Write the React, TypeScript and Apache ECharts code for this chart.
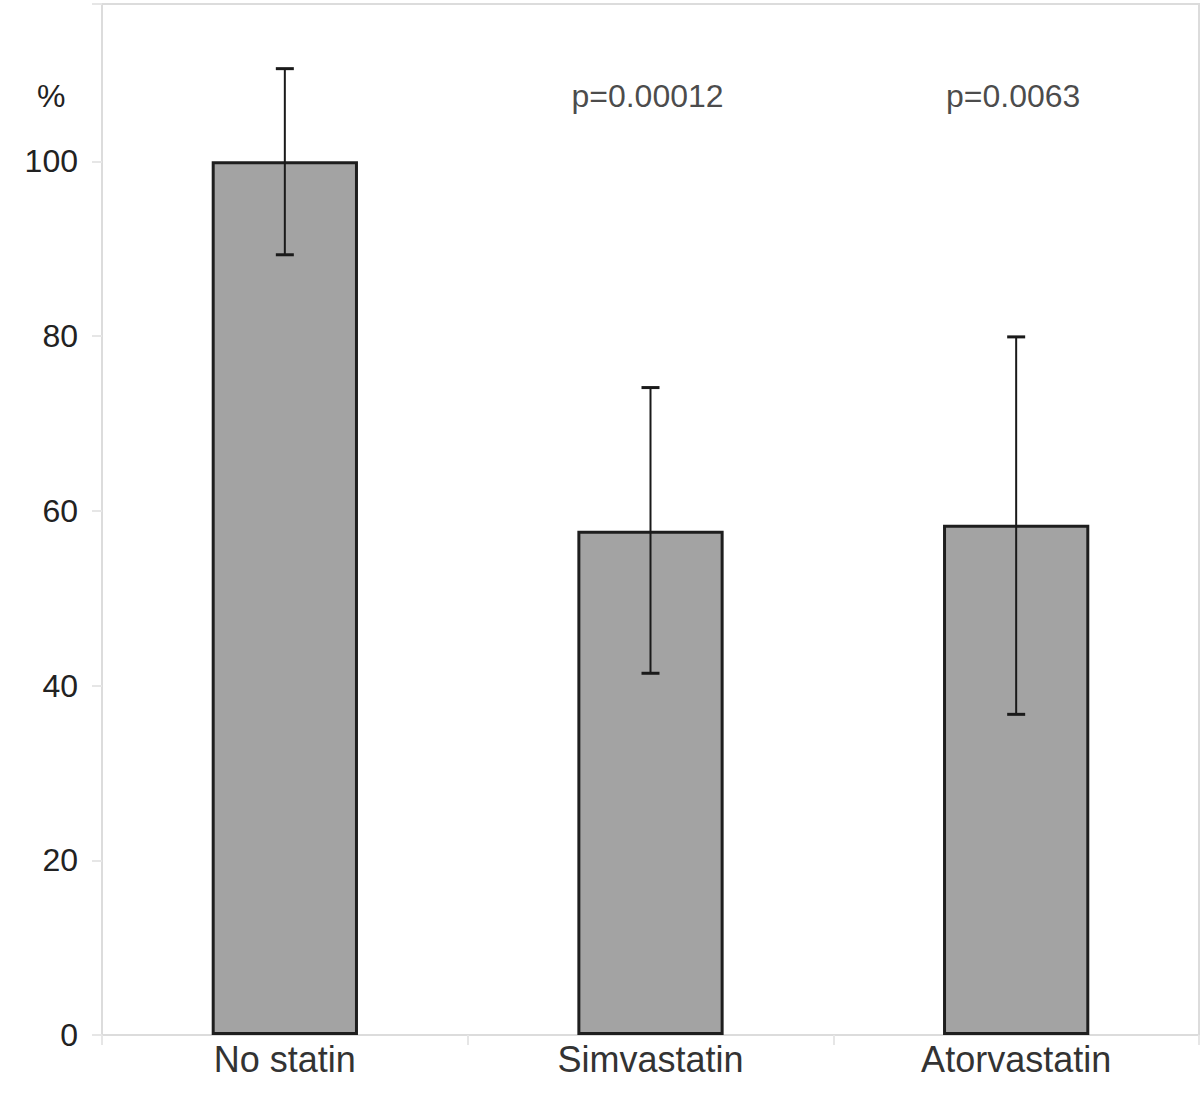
import React, { useEffect, useRef } from "react";
import * as echarts from "echarts";

const categories = ["No statin", "Simvastatin", "Atorvastatin"];
const means = [100, 57.7, 58.4];
const errLow = [89.3, 41.4, 36.7];
const errHigh = [110.6, 74.1, 79.9];
const pLabels = ["", "p=0.00012", "p=0.0063"];
const pLabelLevel = 107.5;
const yTickValues = [0, 20, 40, 60, 80, 100];

export default function App() {
  const ref = useRef<HTMLDivElement>(null);
  useEffect(() => {
    document.body.style.margin = "0";
    const chart = echarts.init(ref.current!, null, { renderer: "svg" });
    const font = "Liberation Sans, Arial, sans-serif";
    chart.setOption({
      animation: false,
      backgroundColor: "#ffffff",
      textStyle: { fontFamily: font },
      grid: {
        left: 102,
        right: 1,
        top: 4,
        bottom: 68,
        show: true,
        borderColor: "#dcdcdc",
        borderWidth: 2,
      },
      xAxis: {
        type: "category",
        data: categories,
        axisLine: { show: true, lineStyle: { color: "#dcdcdc", width: 2 } },
        axisTick: { show: true, length: 10, lineStyle: { color: "#e6e6e6", width: 2 } },
        axisLabel: { fontSize: 36, color: "#333", margin: 6, fontFamily: font },
      },
      yAxis: {
        type: "value",
        min: 0,
        max: 118,
        interval: 20,
        splitLine: { show: false },
        axisLine: { show: true, lineStyle: { color: "#dcdcdc", width: 2 } },
        axisTick: { show: true, length: 10, lineStyle: { color: "#e6e6e6", width: 2 } },
        axisLabel: {
          fontSize: 32,
          color: "#222",
          margin: 24,
          fontFamily: font,
          formatter: (v: number) => (yTickValues.includes(v) ? String(v) : ""),
        },
      },
      graphic: [
        {
          type: "text",
          left: 37,
          top: 80,
          style: { text: "%", fontSize: 32, fill: "#222", fontFamily: font },
        },
      ],
      series: [
        {
          type: "bar",
          data: means,
          barWidth: "40%",
          itemStyle: { color: "#a3a3a3", borderColor: "#1e1e1e", borderWidth: 3 },
          z: 2,
        },
        {
          type: "custom",
          z: 5,
          data: categories.map((_, i) => [i, errLow[i], errHigh[i]]),
          renderItem: (params: any, api: any) => {
            const x = api.value(0);
            const lo = api.coord([x, api.value(1)]);
            const hi = api.coord([x, api.value(2)]);
            const cap = 9;
            const st = { stroke: "#1a1a1a", lineWidth: 2 };
            const capSt = { stroke: "#1a1a1a", lineWidth: 3 };
            return {
              type: "group",
              children: [
                { type: "line", shape: { x1: lo[0], y1: lo[1], x2: hi[0], y2: hi[1] }, style: st },
                { type: "line", shape: { x1: hi[0] - cap, y1: hi[1], x2: hi[0] + cap, y2: hi[1] }, style: capSt },
                { type: "line", shape: { x1: lo[0] - cap, y1: lo[1], x2: lo[0] + cap, y2: lo[1] }, style: capSt },
              ],
            };
          },
        },
        {
          type: "scatter",
          symbolSize: 0,
          data: categories.map((_, i) => [i, pLabelLevel]),
          label: {
            show: true,
            position: "inside",
            offset: [-3, 0],
            fontSize: 32,
            color: "#1a1a1a",
            fontFamily: font,
            formatter: (p: any) => pLabels[p.dataIndex],
          },
          z: 6,
        },
      ],
    });
    return () => chart.dispose();
  }, []);
  return <div ref={ref} style={{ width: 1200, height: 1103 }} />;
}
